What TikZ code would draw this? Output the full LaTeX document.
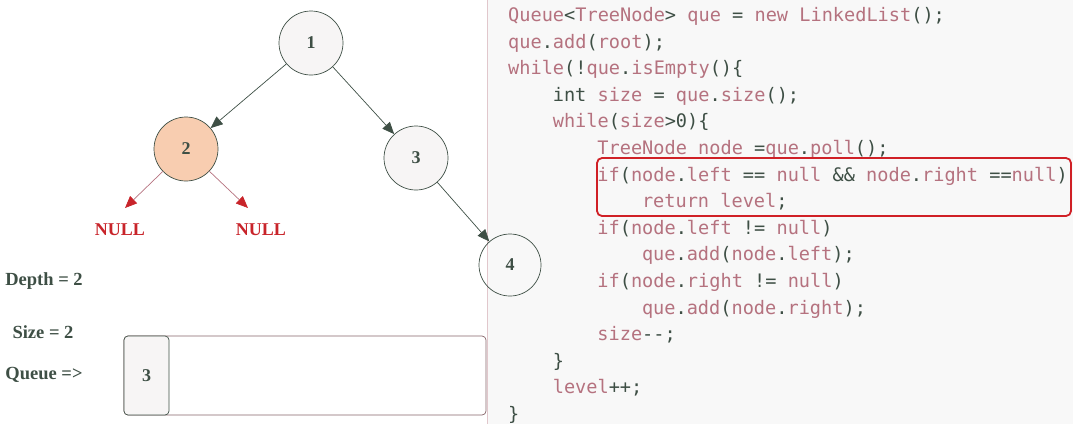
\documentclass[tikz,border=0pt]{standalone}
\usepackage{fontspec}
\setmainfont{Liberation Serif}
\newfontfamily\codefont{DejaVu Sans Mono}
\usetikzlibrary{arrows.meta}
\definecolor{inkdark}{HTML}{3E4F45}
\definecolor{mauve}{HTML}{B5727F}
\definecolor{nullred}{HTML}{C8242A}
\definecolor{peach}{HTML}{F8CDB0}
\definecolor{nodegray}{HTML}{F7F5F5}
\definecolor{panelgray}{HTML}{F8F8F8}
\definecolor{boxred}{HTML}{D02026}
\newcommand{\cdk}[1]{\textcolor{inkdark}{#1}}
\tikzstyle{treenode} = [circle, minimum size=64pt, inner sep=0pt, draw=inkdark, line width=0.7pt, fill=nodegray, text=inkdark, font=\fontsize{18}{20}\selectfont\bfseries]
\tikzstyle{nulltext} = [text=nullred, font=\fontsize{18}{20}\selectfont\bfseries]
\tikzstyle{sidetext} = [text=inkdark, font=\fontsize{18.5}{20}\selectfont\bfseries]
\tikzstyle{arrow} = [line width=0.7pt, draw=inkdark, -{Triangle[length=12pt,width=10pt]}]
\tikzstyle{nullarrow} = [line width=0.7pt, draw=mauve, -{Triangle[length=12pt,width=10pt,color=nullred]}]
\tikzstyle{codeline} = [anchor=base west, inner sep=0pt, text=mauve, font=\codefont\fontsize{18.6}{22}\selectfont]

\begin{document}
\begin{tikzpicture}[x=1pt, y=-1pt]
\useasboundingbox (0,0) rectangle (1073,424);
% code panel on the right
\fill[panelgray] (487,0) rectangle (1073,424);
\draw[mauve!40, line width=0.5pt] (487,0) -- (487,424);

% the tree
\node (n1) [treenode] at (311,43) {1};
\node (n2) [treenode, fill=peach] at (186,149) {2};
\node (n3) [treenode] at (416,158) {3};
\node (n4) [treenode, fill=none, minimum size=62pt] at (510,265) {4};
\node (nl) [nulltext] at (120,230) {NULL};
\node (nr) [nulltext] at (261,230) {NULL};
\coordinate (nltip) at (125,208);
\coordinate (nrtip) at (248,208);
\draw [arrow] (n1) -- (n2);
\draw [arrow] (n1) -- (n3);
\draw [arrow] (n3) -- (n4);
\draw [nullarrow] (n2) -- (nltip);
\draw [nullarrow] (n2) -- (nrtip);

% state of the search
\node (depth) [sidetext] at (44,281) {Depth = 2};
\node (size)  [sidetext] at (43,332) {Size = 2};
\node (queue) [sidetext] at (44,375) {Queue =>};
\node (qbox) [rectangle, rounded corners=4pt, draw=mauve!60!inkdark, line width=0.7pt, minimum width=362pt, minimum height=79pt] at (305,375.5) {};
\node (qcell) [rectangle, rounded corners=4pt, draw=inkdark, fill=nodegray, line width=0.7pt, minimum width=45pt, minimum height=79pt, text=inkdark, font=\fontsize{18}{20}\selectfont\bfseries] at (146.5,375.5) {3};

% the code
\node (c1)  [codeline] at (508,21.5)   {Queue\cdk{<}TreeNode\cdk{>} que \cdk{=} new LinkedList\cdk{();}};
\node (c2)  [codeline] at (508,48.1)   {que\cdk{.}add\cdk{(}root\cdk{);}};
\node (c3)  [codeline] at (508,74.7)   {while\cdk{(!}que\cdk{.}isEmpty\cdk{()\{}};
\node (c4)  [codeline] at (552.6,101.3) {\cdk{int} size \cdk{=} que\cdk{.}size\cdk{();}};
\node (c5)  [codeline] at (552.6,127.9) {while\cdk{(}size\cdk{>0)\{}};
\node (c6)  [codeline] at (597.2,154.5) {TreeNode node \cdk{=}que\cdk{.}poll\cdk{();}};
\node (c7)  [codeline] at (597.2,181.1) {if\cdk{(}node\cdk{.}left \cdk{==} null \cdk{\&\&} node\cdk{.}right \cdk{==}null\cdk{)}};
\node (c8)  [codeline] at (641.8,207.7) {return level\cdk{;}};
\node (c9)  [codeline] at (597.2,234.3) {if\cdk{(}node\cdk{.}left \cdk{!=} null\cdk{)}};
\node (c10) [codeline] at (641.8,260.9) {que\cdk{.}add\cdk{(}node\cdk{.}left\cdk{);}};
\node (c11) [codeline] at (597.2,287.5) {if\cdk{(}node\cdk{.}right \cdk{!=} null\cdk{)}};
\node (c12) [codeline] at (641.8,314.1) {que\cdk{.}add\cdk{(}node\cdk{.}right\cdk{);}};
\node (c13) [codeline] at (597.2,340.7) {size\cdk{-{}-;}};
\node (c14) [codeline] at (552.6,367.3) {\cdk{\}}};
\node (c15) [codeline] at (552.6,393.9) {level\cdk{+{}+;}};
\node (c16) [codeline] at (508,420.5)   {\cdk{\}}};
% the leaf test
\node (hl) [rectangle, rounded corners=5pt, draw=boxred, line width=1.8pt, minimum width=474pt, minimum height=58pt] at (834,187) {};
\end{tikzpicture}
\end{document}
